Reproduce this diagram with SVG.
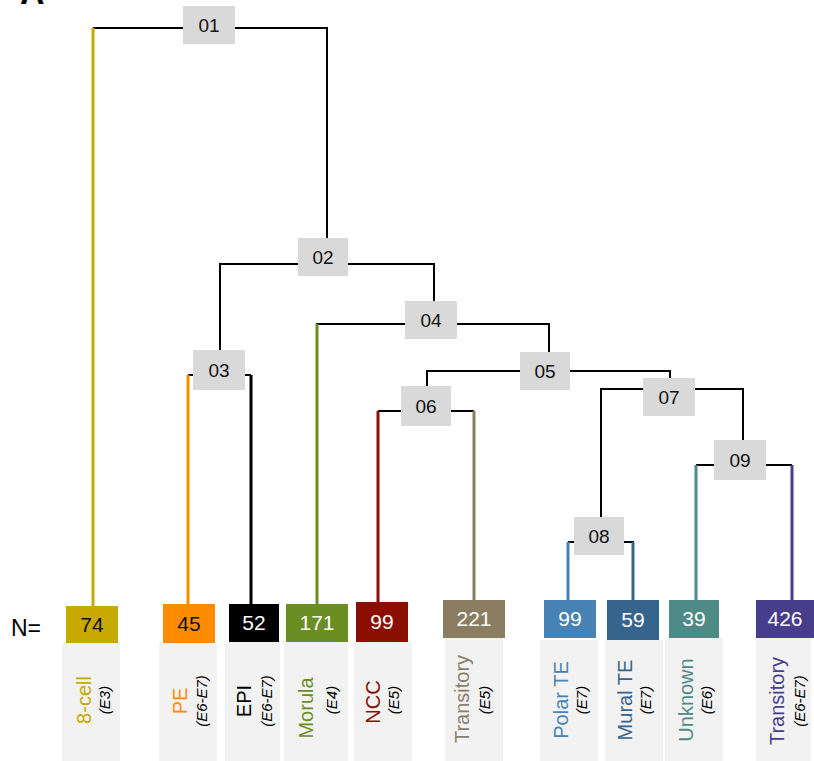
<svg xmlns="http://www.w3.org/2000/svg" width="814" height="761" viewBox="0 0 814 761">
<style>
.nb{fill:#D9D9D9}
.nt{font-family:"Liberation Sans",Arial,sans-serif;font-size:19px;fill:#111;text-anchor:middle}
.ct{font-family:"Liberation Sans",Arial,sans-serif;font-size:21px;fill:#fff;text-anchor:middle}
.lb{fill:#F2F2F2}
.ml{font-family:"Liberation Sans",Arial,sans-serif;font-size:20px;text-anchor:middle}
.sl{font-family:"Liberation Sans",Arial,sans-serif;font-size:15px;font-style:italic;fill:#000;text-anchor:middle}
.k{stroke:#000;stroke-width:2;fill:none}
.lf{stroke-width:3;fill:none}
</style>
<rect width="814" height="761" fill="#fff"/>
<text x="20" y="4" font-family="Liberation Sans,Arial,sans-serif" font-weight="bold" font-size="34" fill="#000">A</text>
<text x="11" y="636" font-family="Liberation Sans,Arial,sans-serif" font-size="23" fill="#000">N=</text>

<g id="connectors">
<path class="k" d="M93,28H327V238"/>
<path class="k" d="M220,350V264H434V301"/>
<path class="k" d="M188,375H251"/>
<path class="k" d="M316,324H549V352"/>
<path class="k" d="M427,386V371H670V378"/>
<path class="k" d="M378,411H474"/>
<path class="k" d="M601,517V389H743V440"/>
<path class="k" d="M568,542H634"/>
<path class="k" d="M696,465H792"/>
<path class="lf" stroke="#C8A900" d="M93,28V606"/>
<path class="lf" stroke="#FF8C00" d="M188,375V604"/>
<path class="lf" stroke="#000" d="M251,375V604"/>
<path class="lf" stroke="#6B8E23" d="M317,324V604"/>
<path class="lf" stroke="#8B0F00" d="M378,411V602"/>
<path class="lf" stroke="#8B7D62" d="M474,411V600"/>
<path class="lf" stroke="#4682B4" d="M568,542V600"/>
<path class="lf" stroke="#35648C" d="M633,542V600"/>
<path class="lf" stroke="#4E8B87" d="M696,465V600"/>
<path class="lf" stroke="#483D8B" d="M792,465V600"/>
</g>

<g id="n01"><rect class="nb" x="183" y="6" width="52" height="38"/><text class="nt" x="209" y="32">01</text></g>
<g id="n02"><rect class="nb" x="298" y="238" width="50" height="38"/><text class="nt" x="323" y="264">02</text></g>
<g id="n03"><rect class="nb" x="193" y="350" width="52" height="40"/><text class="nt" x="219" y="377">03</text></g>
<g id="n04"><rect class="nb" x="405" y="301" width="52" height="38"/><text class="nt" x="431" y="327">04</text></g>
<g id="n05"><rect class="nb" x="520" y="352" width="50" height="38"/><text class="nt" x="545" y="378">05</text></g>
<g id="n06"><rect class="nb" x="401" y="386" width="50" height="40"/><text class="nt" x="426" y="413">06</text></g>
<g id="n07"><rect class="nb" x="643" y="378" width="52" height="38"/><text class="nt" x="669" y="404">07</text></g>
<g id="n08"><rect class="nb" x="574" y="517" width="50" height="38"/><text class="nt" x="599" y="543">08</text></g>
<g id="n09"><rect class="nb" x="714" y="440" width="52" height="40"/><text class="nt" x="740" y="467">09</text></g>

<g id="leaf-8cell">
<rect class="lb" x="62" y="643" width="58" height="118"/>
<rect x="66" y="606" width="52" height="37" fill="#C8A900"/>
<text class="ct" x="92" y="632" style="fill:#111">74</text>
<text class="ml" fill="#C8A900" transform="translate(91,700) rotate(-90)">8-cell</text>
<text class="sl" transform="translate(110,700) rotate(-90)">(E3)</text>
</g>
<g id="leaf-PE">
<rect class="lb" x="159" y="643" width="58" height="118"/>
<rect x="163" y="604" width="52" height="39" fill="#FF8C00"/>
<text class="ct" x="189" y="631" style="fill:#111">45</text>
<text class="ml" fill="#FF8C00" transform="translate(187,701) rotate(-90)">PE</text>
<text class="sl" transform="translate(207,701) rotate(-90)">(E6-E7)</text>
</g>
<g id="leaf-EPI">
<rect class="lb" x="225" y="642" width="55" height="119"/>
<rect x="229" y="604" width="50" height="38" fill="#000"/>
<text class="ct" x="254" y="630">52</text>
<text class="ml" fill="#000" transform="translate(251,701) rotate(-90)">EPI</text>
<text class="sl" transform="translate(272,701) rotate(-90)">(E6-E7)</text>
</g>
<g id="leaf-Morula">
<rect class="lb" x="284" y="642" width="64" height="119"/>
<rect x="286" y="604" width="62" height="38" fill="#6B8E23"/>
<text class="ct" x="317" y="630">171</text>
<text class="ml" fill="#6B8E23" transform="translate(313,708) rotate(-90)">Morula</text>
<text class="sl" transform="translate(337,700) rotate(-90)">(E4)</text>
</g>
<g id="leaf-NCC">
<rect class="lb" x="354" y="642" width="58" height="119"/>
<rect x="356" y="602" width="52" height="40" fill="#8B0F00"/>
<text class="ct" x="382" y="629">99</text>
<text class="ml" fill="#8B0F00" transform="translate(380,702) rotate(-90)">NCC</text>
<text class="sl" transform="translate(399,700) rotate(-90)">(E5)</text>
</g>
<g id="leaf-Transitory-E5">
<rect class="lb" x="445" y="638" width="58" height="123"/>
<rect x="443" y="600" width="62" height="38" fill="#8B7D62"/>
<text class="ct" x="474" y="626">221</text>
<text class="ml" fill="#8B7D6B" transform="translate(469,699) rotate(-90)">Transitory</text>
<text class="sl" transform="translate(490,700) rotate(-90)">(E5)</text>
</g>
<g id="leaf-PolarTE">
<rect class="lb" x="540" y="640" width="58" height="121"/>
<rect x="544" y="600" width="52" height="38" fill="#4682B4"/>
<text class="ct" x="570" y="626">99</text>
<text class="ml" fill="#4682B4" transform="translate(568,700) rotate(-90)">Polar TE</text>
<text class="sl" transform="translate(587,700) rotate(-90)">(E7)</text>
</g>
<g id="leaf-MuralTE">
<rect class="lb" x="605" y="640" width="58" height="121"/>
<rect x="607" y="600" width="52" height="40" fill="#35648C"/>
<text class="ct" x="633" y="627">59</text>
<text class="ml" fill="#35648C" transform="translate(632,700) rotate(-90)">Mural TE</text>
<text class="sl" transform="translate(651,700) rotate(-90)">(E7)</text>
</g>
<g id="leaf-Unknown">
<rect class="lb" x="665" y="638" width="58" height="123"/>
<rect x="669" y="600" width="50" height="38" fill="#4E8B87"/>
<text class="ct" x="694" y="626">39</text>
<text class="ml" fill="#4E8B87" transform="translate(693,700) rotate(-90)">Unknown</text>
<text class="sl" transform="translate(712,700) rotate(-90)">(E6)</text>
</g>
<g id="leaf-Transitory-E6E7">
<rect class="lb" x="756" y="638" width="55" height="123"/>
<rect x="756" y="600" width="58" height="38" fill="#483D8B"/>
<text class="ct" x="785" y="626">426</text>
<text class="ml" fill="#483D8B" transform="translate(784,701) rotate(-90)">Transitory</text>
<text class="sl" transform="translate(805,701) rotate(-90)">(E6-E7)</text>
</g>
</svg>
